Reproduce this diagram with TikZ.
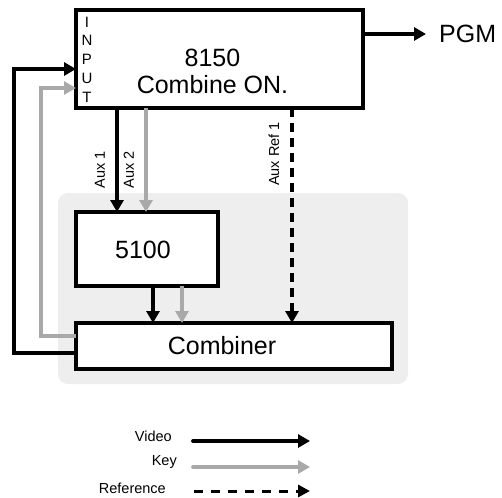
\documentclass[tikz,border=0pt]{standalone}
\usepackage{fontspec}
\setmainfont{Liberation Sans}
\usetikzlibrary{arrows.meta}
\definecolor{keygray}{HTML}{A9A9A9}
\definecolor{bggray}{HTML}{EEEEEE}
\tikzset{
  blk/.style={draw=black, line width=4pt, fill=white, inner sep=0pt, outer sep=0pt},
  big/.style={font=\fontsize{25}{27}\selectfont, inner sep=0pt, align=center},
  small/.style={font=\fontsize{14.5}{17}\selectfont, inner sep=0pt},
  vid/.style={draw=black, line width=3.8pt, -{Triangle[length=12pt,width=13pt]}},
  keyline/.style={draw=keygray, line width=3.8pt, -{Triangle[length=12pt,width=13pt]}},
  refline/.style={draw=black, line width=3.8pt, dash pattern=on 9pt off 6pt, -{Triangle[length=12pt,width=13pt]}},
}
\begin{document}
\begin{tikzpicture}[x=1pt,y=-1pt]
\useasboundingbox (0,0) rectangle (502,497);
% grey background
\fill[bggray, rounded corners=10pt] (58,193) rectangle (408,384);
% boxes
\node[blk, minimum width=287pt, minimum height=98pt] (top) at (219.5,59) {};
\node[big] (toptext) at (212.5,71) {8150\\Combine ON.};
\node[font=\fontsize{15}{18.75}\selectfont, inner sep=0pt, align=center] (input) at (87,59.5) {I\\N\\P\\U\\T};
\node[blk, minimum width=142pt, minimum height=74pt] (b5100) at (147,249) {};
\node[big] (t5100) at (143,250) {5100};
\node[blk, minimum width=316pt, minimum height=46pt] (comb) at (234,346) {};
\node[big] (tcomb) at (222,346) {Combiner};
% PGM
\node[big, anchor=west] (pgm) at (439,34) {PGM};
\coordinate (pgmtip) at (426,34);
\draw[vid] (top.east |- pgmtip) -- (pgmtip);
% Aux lines
\coordinate (x1) at (117,0);
\coordinate (x2) at (146,0);
\coordinate (x3) at (292,0);
\coordinate (x4) at (153,0);
\coordinate (x5) at (182,0);
\draw[vid] (top.south -| x1) -- (b5100.north -| x1);
\draw[keyline] (top.south -| x2) -- (b5100.north -| x2);
\draw[refline] (top.south -| x3) -- (comb.north -| x3);
\draw[vid] (b5100.south -| x4) -- (comb.north -| x4);
\draw[keyline] (b5100.south -| x5) -- (comb.north -| x5);
\node[small, rotate=90] (aux1) at (100,170) {Aux 1};
\node[small, rotate=90] (aux2) at (129,170) {Aux 2};
\node[small, rotate=90] (auxref) at (274,154) {Aux Ref 1};
% feedback
\coordinate (fbg) at (41,336);
\coordinate (fbk) at (14,353);
\coordinate (ig) at (0,88);
\coordinate (ib) at (0,69);
\draw[keyline] (comb.west |- fbg) -- (fbg) |- (top.west |- ig);
\draw[vid] (comb.west |- fbk) -- (fbk) |- (top.west |- ib);
% legend
\node[small, anchor=east] (lv) at (172,436) {Video};
\node[small, anchor=east] (lk) at (177,462) {Key};
\node[small, anchor=east] (lr) at (166,488) {Reference};
\coordinate (lv1) at (193,441); \coordinate (lv2) at (310,441);
\coordinate (lk1) at (193,467); \coordinate (lk2) at (310,467);
\coordinate (lr1) at (194,491); \coordinate (lr2) at (310,491);
\draw[vid, line cap=round] (lv1) -- (lv2);
\draw[keyline, line cap=round] (lk1) -- (lk2);
\draw[draw=black, line width=3pt, dash pattern=on 9pt off 8pt, -{Triangle[length=12pt,width=12pt]}] (lr1) -- (lr2);
\end{tikzpicture}
\end{document}
